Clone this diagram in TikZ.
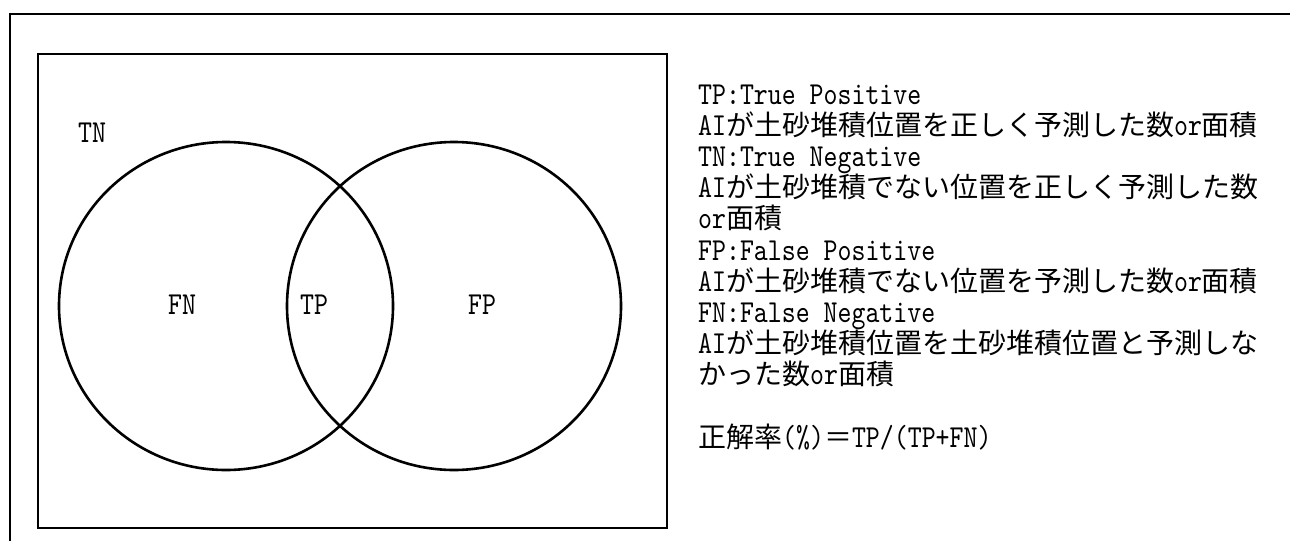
\documentclass[tikz,border=0pt]{standalone}
\usepackage{fontspec}
\newfontfamily\jp{Noto Sans CJK JP}
\newfontfamily\lt{lmmono10-regular}[Extension=.otf,FakeStretch=0.83]
\newcommand\lm[1]{{\fontsize{32}{36}\selectfont\lt #1}}
\tikzset{
  frame/.style={line width=2.6pt},
  venn/.style={line width=2.6pt},
  lbl/.style={inner sep=0pt, font=\fontsize{32}{36}\selectfont\lt},
  txt/.style={anchor=base west, inner sep=0pt, font=\fontsize{28}{32}\selectfont\jp},
}
\begin{document}
\begin{tikzpicture}[x=1pt,y=-1pt]
\useasboundingbox (0,0) rectangle (1290,541);
% outer frame (cropped)
\draw[frame] (10,541) -- (10,14) -- (1290,14);
% inner frame
\draw[frame] (38,54) rectangle (667,528);
% Venn circles
\coordinate (cl) at (226,306);
\coordinate (cr) at (454,306);
\draw[venn] (cl) ellipse [x radius=167, y radius=164];
\draw[venn] (cr) ellipse [x radius=167, y radius=164];
% region labels
\node[lbl] (tn) at (92,133) {TN};
\node[lbl] (fn) at (182,305) {FN};
\node[lbl] (tp) at (314,305) {TP};
\node[lbl] (fp) at (482,305) {FP};
% legend text
\node[txt] (t1) at (698,104) {\lm{TP:True Positive}};
\node[txt] (t2) at (698,135.2) {\lm{AI}が土砂堆積位置を正しく予測した数\lm{or}面積};
\node[txt] (t3) at (698,166.4) {\lm{TN:True Negative}};
\node[txt] (t4) at (698,197.6) {\lm{AI}が土砂堆積でない位置を正しく予測した数};
\node[txt] (t5) at (698,228.8) {\lm{or}面積};
\node[txt] (t6) at (698,260) {\lm{FP:False Positive}};
\node[txt] (t7) at (698,291.2) {\lm{AI}が土砂堆積でない位置を予測した数\lm{or}面積};
\node[txt] (t8) at (698,322.4) {\lm{FN:False Negative}};
\node[txt] (t9) at (698,353.6) {\lm{AI}が土砂堆積位置を土砂堆積位置と予測しな};
\node[txt] (t10) at (698,384.8) {かった数\lm{or}面積};
\node[txt] (t11) at (698,447.2) {正解率\lm{(\%)}＝\lm{TP/(TP+FN)}};
\end{tikzpicture}
\end{document}
